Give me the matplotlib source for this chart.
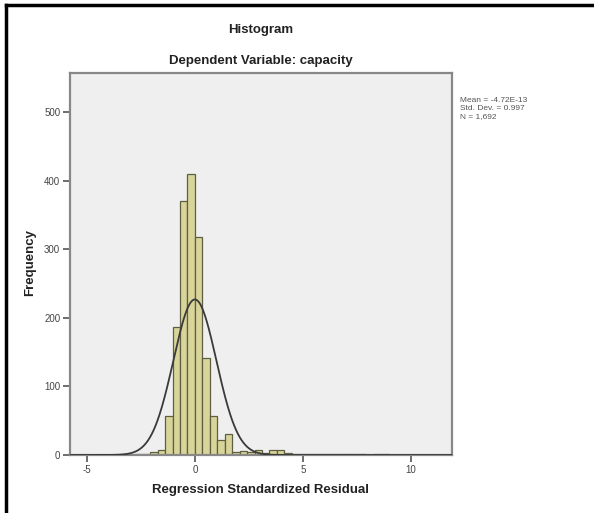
import numpy as np
import matplotlib
matplotlib.use("Agg")
import matplotlib.pyplot as plt
from matplotlib.lines import Line2D

plt.rcParams['font.family'] = ['Liberation Sans', 'DejaVu Sans']

# ---- data ----
bin_width = 0.345
first_edge = -2.76
counts = [1, 2, 4, 8, 57, 187, 370, 410, 318, 142, 57, 22, 30,
          5, 6, 4, 8, 3, 8, 7, 3, 2, 2, 1, 2, 1, 1, 2, 1, 1, 1, 0, 1, 1]
n_total = 1692
mean_val = 0.0
sd_val = 0.997
x_ticks = [-5, 0, 5, 10]
y_ticks = [0, 100, 200, 300, 400, 500]
title1 = "Histogram"
title2 = "Dependent Variable: capacity"
xlabel = "Regression Standardized Residual"
ylabel = "Frequency"
stats_lines = ["Mean = -4.72E-13", "Std. Dev. = 0.997", "N = 1,692"]

W, H = 594, 513
fig = plt.figure(figsize=(W / 100, H / 100), dpi=100)
fig.patch.set_facecolor('white')

# axes in pixel coordinates
L, R, T, B = 70, 452, 73, 455
ax = fig.add_axes([L / W, 1 - B / H, (R - L) / W, (B - T) / H])
ax.set_facecolor('#efefef')

edges = first_edge + bin_width * np.arange(len(counts) + 1)
ax.bar(edges[:-1], counts, width=bin_width, align='edge',
       color='#d8d49a', edgecolor='#5e5e40', linewidth=0.9, zorder=2)

xs = np.linspace(-5.8, 12, 600)
pdf = np.exp(-0.5 * ((xs - mean_val) / sd_val) ** 2) / (sd_val * np.sqrt(2 * np.pi))
ax.plot(xs, n_total * 0.335 * pdf, color='#3a3a3a', lw=1.3, zorder=3)

ax.set_xlim(-5.78, 11.9)
ax.set_ylim(0, 557)
ax.set_xticks(x_ticks)
ax.set_yticks(y_ticks)
ax.set_xticklabels([str(v) for v in x_ticks])
ax.set_yticklabels([str(v) for v in y_ticks])
ax.tick_params(axis='both', direction='out', length=5, width=1.2, color='#555555',
               labelsize=7, labelcolor='#444444', pad=2)
for side in ['left', 'bottom', 'top', 'right']:
    ax.spines[side].set_color('#888888')
    ax.spines[side].set_linewidth(1.6)

fig.text((L + R) / 2 / W, 1 - 30 / H, title1, ha='center', va='center',
         fontsize=9.5, fontweight='bold', color='#222222')
fig.text((L + R) / 2 / W, 1 - 61 / H, title2, ha='center', va='center',
         fontsize=9.5, fontweight='bold', color='#222222')
fig.text((L + R) / 2 / W, 1 - 490 / H, xlabel, ha='center', va='center',
         fontsize=9.5, fontweight='bold', color='#222222')
fig.text(30 / W, 1 - 263 / H, ylabel, ha='center', va='center', rotation=90,
         fontsize=9.5, fontweight='bold', color='#222222')
for i, s in enumerate(stats_lines):
    fig.text(460 / W, 1 - (101 + 8 * i) / H, s, ha='left', va='center',
             fontsize=6, color='#555555')

# frame lines (top and left) of the original screenshot
fig.add_artist(Line2D([6 / W, 1], [1 - 5 / H, 1 - 5 / H], color='black', lw=2.5))
fig.add_artist(Line2D([6 / W, 6 / W], [0, 1 - 5 / H], color='black', lw=2.5))

fig.savefig('out.png', dpi=100, facecolor='white')
